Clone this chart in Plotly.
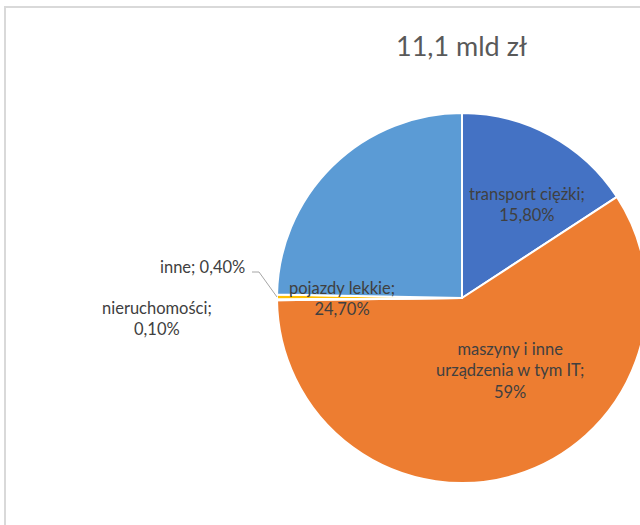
import plotly.graph_objects as go

# Structure of the 11.1 bn zł total, by asset type (share in %)
categories = ["transport ciężki", "maszyny i inne\nurządzenia w tym IT",
              "nieruchomości", "inne", "pojazdy lekkie"]
shares = [15.8, 59.0, 0.1, 0.4, 24.7]
colors = ["#4472C4", "#ED7D31", "#A5A5A5", "#FFC000", "#5B9BD5"]
title_text = "11,1 mld zł"

W, H = 660, 525
TEXT = "#404040"
FONT = "Lato"


def pct(v):
    if float(v).is_integer():
        return f"{int(v)}%"
    return f"{v:.2f}".replace(".", ",") + "%"


def px(x, y):
    return x / W, 1 - y / H


fig = go.Figure()
fig.add_trace(go.Pie(
    labels=[c.replace("\n", " ") for c in categories],
    values=shares,
    sort=False,
    direction="clockwise",
    rotation=0,
    marker=dict(colors=colors, line=dict(color="white", width=2)),
    textinfo="none",
    hoverinfo="label+percent",
    showlegend=False,
    domain=dict(x=[277 / W, 647 / W], y=[42 / H, 412 / H]),
))

# label placement (pixel centres) for each slice
label_pos = [(527, 205, "center"), (510, 370, "center"), (157, 318, "center"),
             (247, 267, "right"), (342, 298, "center")]
for cat, v, (lx, ly, anchor) in zip(categories, shares, label_pos):
    if cat == "inne":
        txt = f"{cat}; {pct(v)}"
    else:
        txt = (cat + ";").replace("\n", "<br>") + "<br>" + pct(v)
    x, y = px(lx, ly)
    fig.add_annotation(x=x, y=y, xref="paper", yref="paper", text=txt,
                       showarrow=False, xanchor=anchor, yanchor="middle",
                       align="center",
                       font=dict(family=FONT, size=16.5, color=TEXT))

# leader line for the small "inne" slice
pts = [px(252, 272), px(259, 272), px(277, 297)]
fig.add_shape(type="path", xref="paper", yref="paper",
              path="M {} {} L {} {} L {} {}".format(*[c for p in pts for c in p]),
              line=dict(color="#A6A6A6", width=1))

# chart frame
fx0, fy1 = px(5, 7)
fig.add_shape(type="rect", xref="paper", yref="paper",
              x0=fx0, y0=-0.1, x1=1.2, y1=fy1,
              line=dict(color="#D9D9D9", width=2), layer="below")

tx, ty = px(461, 46)
fig.add_annotation(x=tx, y=ty, xref="paper", yref="paper", text=title_text,
                   showarrow=False, xanchor="center", yanchor="middle",
                   font=dict(family=FONT, size=27, color="#595959"))

fig.update_layout(width=W, height=H, margin=dict(l=0, r=0, t=0, b=0),
                  paper_bgcolor="white", plot_bgcolor="white")

fig.write_html("out.html",
               post_script="document.documentElement.style.overflow='hidden';"
                           "document.body.style.overflow='hidden';")
